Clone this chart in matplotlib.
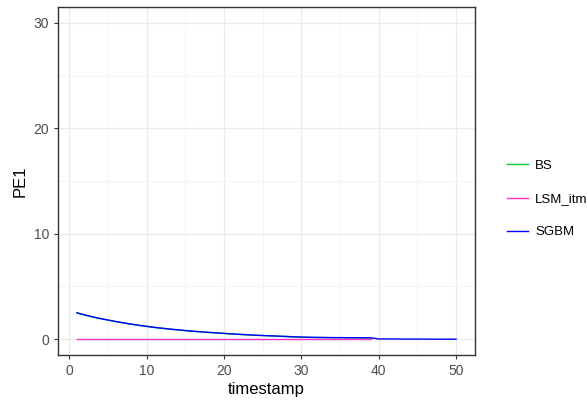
import numpy as np
import matplotlib.pyplot as plt
from matplotlib.lines import Line2D

plt.rcParams["font.family"] = ["Liberation Sans", "DejaVu Sans"]

timestamp = np.arange(1, 51)
sgbm = [2.50, 2.30, 2.12, 1.96, 1.82, 1.68, 1.55, 1.43, 1.32, 1.22,
        1.12, 1.04, 0.96, 0.89, 0.82, 0.76, 0.70, 0.65, 0.60, 0.55,
        0.50, 0.46, 0.42, 0.38, 0.35, 0.32, 0.29, 0.26, 0.23, 0.20,
        0.18, 0.17, 0.16, 0.15, 0.15, 0.14, 0.14, 0.13, 0.13, 0.02,
        0.02, 0.02, 0.01, 0.01, 0.01, 0.01, 0.00, 0.00, 0.00, 0.00]
bs_t = np.arange(1, 40)
bs = [2.49, 2.29, 2.11, 1.95, 1.81, 1.67, 1.54, 1.42, 1.31, 1.21,
      1.11, 1.03, 0.95, 0.88, 0.81, 0.75, 0.69, 0.64, 0.59, 0.54,
      0.49, 0.45, 0.41, 0.37, 0.34, 0.31, 0.28, 0.25, 0.22, 0.19,
      0.17, 0.16, 0.15, 0.14, 0.14, 0.13, 0.13, 0.12, 0.12]
lsm_t = np.arange(1, 40)
lsm = [0.0] * 39

colors = {"BS": "#00CC33", "LSM_itm": "#FF33CC", "SGBM": "#0000FF"}

fig = plt.figure(figsize=(5.87, 4.05), dpi=100)
ax = fig.add_axes([58 / 587, 50 / 405, 417 / 587, 348 / 405])

ax.plot(bs_t, bs, color=colors["BS"], lw=1.0)
ax.plot(lsm_t, lsm, color=colors["LSM_itm"], lw=1.0)
ax.plot(timestamp, sgbm, color=colors["SGBM"], lw=1.0)

ax.set_xlim(-1.45, 52.45)
ax.set_ylim(-1.5, 31.5)
ax.set_xticks([0, 10, 20, 30, 40, 50])
ax.set_yticks([0, 10, 20, 30])
ax.set_xticks([5, 15, 25, 35, 45], minor=True)
ax.set_yticks([5, 15, 25], minor=True)
ax.grid(which="major", color="#EBEBEB", lw=1.0)
ax.grid(which="minor", color="#F2F2F2", lw=0.6)
ax.set_axisbelow(True)
ax.tick_params(which="major", colors="#333333", labelcolor="#4D4D4D",
               labelsize=10, length=3, width=0.8)
ax.tick_params(which="minor", length=0)
for s in ax.spines.values():
    s.set_color("#333333")
    s.set_linewidth(1.0)

ax.set_xlabel("timestamp", fontsize=12, labelpad=3)
ax.set_ylabel("PE1", fontsize=12, labelpad=4)

handles = [Line2D([], [], color=colors[k], lw=1.0) for k in colors]
fig.legend(handles, list(colors), loc="center left",
           bbox_to_anchor=(502 / 587, 1 - 199 / 405), frameon=False,
           fontsize=9.5, handlelength=1.6, handletextpad=0.5,
           labelspacing=1.6, borderaxespad=0)

fig.savefig("out.png", dpi=100)
